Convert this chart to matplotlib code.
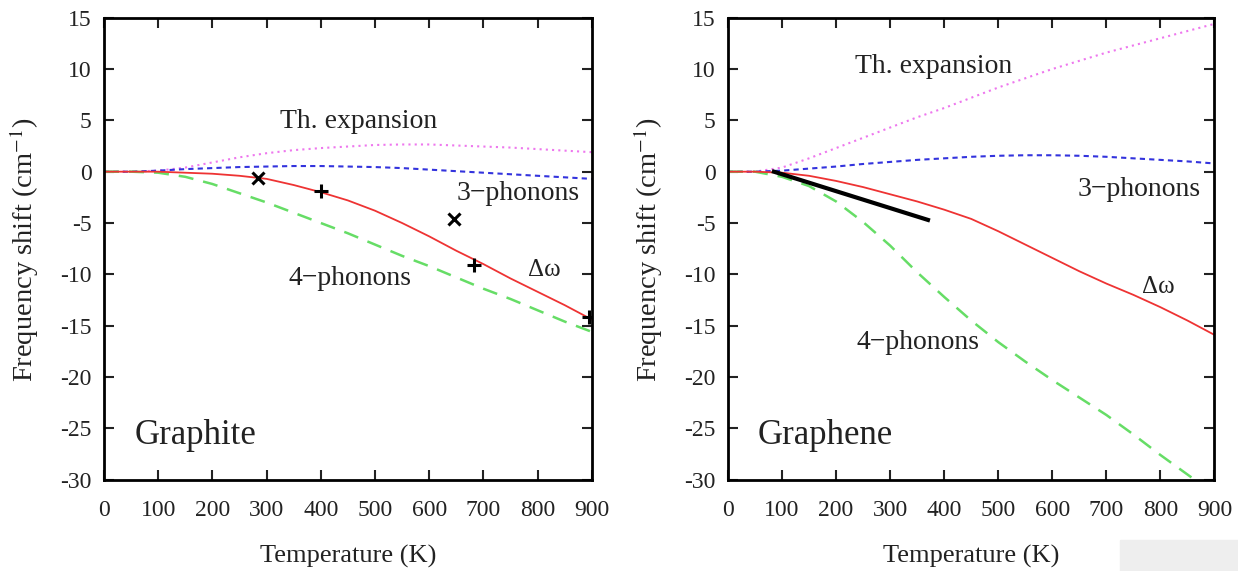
import numpy as np
import matplotlib
matplotlib.use("Agg")
import matplotlib.pyplot as plt
from matplotlib.patches import Rectangle

plt.rcParams['font.family'] = ['Liberation Serif', 'DejaVu Serif']
plt.rcParams['mathtext.fontset'] = 'stix'
plt.rcParams['axes.unicode_minus'] = False

# temperatures (K)
T = [0, 50, 100, 150, 200, 250, 300, 350, 400, 450, 500, 550, 600, 650, 700, 750, 800, 850, 900]

# graphite
gt_th = [0, 0, 0.1, 0.4, 0.9, 1.4, 1.8, 2.1, 2.3, 2.45, 2.6, 2.65, 2.65, 2.55, 2.45, 2.35, 2.2, 2.05, 1.9]
gt_3ph = [0, 0, 0.1, 0.25, 0.35, 0.45, 0.5, 0.55, 0.55, 0.5, 0.45, 0.35, 0.2, 0.05, -0.1, -0.25, -0.4, -0.55, -0.7]
gt_4ph = [0, 0, -0.1, -0.5, -1.2, -2.1, -3.0, -4.0, -5.0, -6.0, -7.1, -8.2, -9.2, -10.3, -11.4, -12.4, -13.5, -14.6, -15.6]
gt_dw = [0, 0, 0, -0.1, -0.2, -0.4, -0.7, -1.3, -2.0, -2.8, -3.8, -5.0, -6.3, -7.7, -9.0, -10.4, -11.7, -13.0, -14.4]
# experimental points graphite
gt_x_T = [285, 645]
gt_x_v = [-0.6, -4.6]
gt_p_T = [400, 682, 895]
gt_p_v = [-1.9, -9.1, -14.2]

# graphene
gn_th = [0, 0, 0.4, 1.3, 2.3, 3.3, 4.3, 5.3, 6.2, 7.2, 8.2, 9.1, 10.0, 10.8, 11.6, 12.3, 13.0, 13.7, 14.4]
gn_3ph = [0, 0, 0.1, 0.3, 0.5, 0.75, 0.95, 1.15, 1.3, 1.45, 1.55, 1.6, 1.6, 1.55, 1.45, 1.3, 1.15, 1.0, 0.8]
gn_4ph = [0, 0, -0.5, -1.4, -2.9, -4.9, -7.2, -9.8, -12.2, -14.5, -16.6, -18.5, -20.3, -22.0, -23.7, -25.6, -27.6, -29.5, -31.4]
gn_dw = [0, 0, -0.1, -0.4, -0.9, -1.5, -2.2, -2.9, -3.7, -4.6, -5.8, -7.1, -8.4, -9.7, -10.9, -12.0, -13.2, -14.5, -15.9]
gn_exp_T = [85, 370]
gn_exp_v = [0, -4.7]

c_red = '#ee3333'
c_green = '#66dd66'
c_blue = '#3333dd'
c_pink = '#ee77ee'
c_txt = '#222222'

fig = plt.figure(figsize=(12.38, 5.71), dpi=100)
ax1 = fig.add_axes([0.084, 0.160, 0.394, 0.809])
ax2 = fig.add_axes([0.588, 0.160, 0.393, 0.809])

for ax in (ax1, ax2):
    ax.set_xlim(0, 900)
    ax.set_ylim(-30, 15)
    ax.set_xticks(range(0, 901, 100))
    ax.set_yticks(range(-30, 16, 5))
    ax.tick_params(direction='in', top=True, right=True, length=7, width=1.5,
                   labelsize=17, colors=c_txt)
    ax.tick_params(axis='x', pad=15)
    ax.tick_params(axis='y', pad=9)
    for s in ax.spines.values():
        s.set_linewidth(2)
    ax.set_xlabel('Temperature (K)', fontsize=19, labelpad=17, color=c_txt)
    ax.set_ylabel('Frequency shift (cm$^{-1}$)', fontsize=20.5, color=c_txt)
    ax.yaxis.set_label_coords(-0.13, 0.498)

# left panel
ax1.plot(T, gt_th, color=c_pink, ls=(0, (1, 2)), lw=1.5)
ax1.plot(T, gt_3ph, color=c_blue, ls=(0, (2.5, 2)), lw=1.5)
ax1.plot(T, gt_4ph, color=c_green, ls=(0, (6, 4)), lw=1.8)
ax1.plot(T, gt_dw, color=c_red, lw=1.3)
ax1.plot(gt_x_T, gt_x_v, 'kx', ms=8, mew=2.2)
ax1.plot(gt_p_T, gt_p_v, 'k+', ms=10, mew=2.2)
ax1.text(470, 4.9, 'Th. expansion', fontsize=20, ha='center', va='center', color=c_txt)
ax1.text(765, -2.1, '3\u2212phonons', fontsize=20, ha='center', va='center', color=c_txt)
ax1.text(453, -10.4, '4\u2212phonons', fontsize=20, ha='center', va='center', color=c_txt)
ax1.text(813, -9.6, '\u0394\u03c9', fontsize=18, ha='center', va='center', color=c_txt)
ax1.text(57, -25.7, 'Graphite', fontsize=25, ha='left', va='center', color=c_txt)

# right panel
ax2.plot(T, gn_th, color=c_pink, ls=(0, (1, 2)), lw=1.5)
ax2.plot(T, gn_3ph, color=c_blue, ls=(0, (2.5, 2)), lw=1.5)
ax2.plot(T, gn_4ph, color=c_green, ls=(0, (6, 4)), lw=1.8)
ax2.plot(T, gn_dw, color=c_red, lw=1.3)
ax2.plot(gn_exp_T, gn_exp_v, color='black', lw=3)
ax2.text(381, 10.2, 'Th. expansion', fontsize=20, ha='center', va='center', color=c_txt)
ax2.text(760, -1.7, '3\u2212phonons', fontsize=20, ha='center', va='center', color=c_txt)
ax2.text(351, -16.6, '4\u2212phonons', fontsize=20, ha='center', va='center', color=c_txt)
ax2.text(797, -11.2, '\u0394\u03c9', fontsize=18, ha='center', va='center', color=c_txt)
ax2.text(55, -25.7, 'Graphene', fontsize=25, ha='left', va='center', color=c_txt)

# grey box in the lower right corner
fig.patches.append(Rectangle((1120 / 1238, 0), 118 / 1238, 31 / 571,
                             transform=fig.transFigure, color='#eeeeee', zorder=0))

fig.savefig('out.png', dpi=100)
